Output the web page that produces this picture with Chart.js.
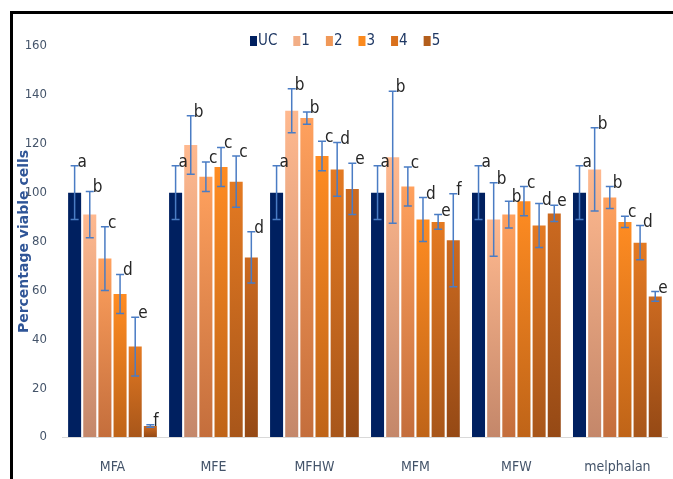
<!DOCTYPE html>
<html>
<head>
<meta charset="utf-8">
<script src="https://cdn.jsdelivr.net/npm/chart.js@4"></script>
<style>
  html, body { margin: 0; padding: 0; background: #fff; overflow: hidden; }
  #wrap { position: relative; width: 673px; height: 479px; }
  #frame { position: absolute; left: 10px; top: 11px; width: 720px; height: 520px;
           border-top: 3px solid #000; border-left: 3px solid #000; }
  canvas { position: absolute; left: 0; top: 0; }
</style>
</head>
<body>
<div id="wrap">
  <div id="frame"></div>
  <canvas id="viabilityChart" width="673" height="479"></canvas>
</div>
<script>
// categories and series
const categories = ["MFA", "MFE", "MFHW", "MFM", "MFW", "melphalan"];
const seriesNames = ["UC", "1", "2", "3", "4", "5"];

// mean % viable cells
const ucValues = [100, 100, 100, 100, 100, 100];
const s1Values = [91, 119.5, 133.5, 114.5, 89, 109.5];
const s2Values = [73, 106.5, 130.5, 102.5, 91, 98];
const s3Values = [58.5, 110.5, 115, 89, 96.5, 88];
const s4Values = [37, 104.5, 109.5, 88, 86.5, 79.5];
const s5Values = [4.5, 73.5, 101.5, 80.5, 91.5, 57.5];

// error bar half widths
const ucErrors = [11, 11, 11, 11, 11, 11];
const s1Errors = [9.5, 12, 9, 27, 15, 17];
const s2Errors = [13, 6, 2.5, 8, 5.5, 4.5];
const s3Errors = [8, 8, 6, 9, 6, 2.3];
const s4Errors = [12, 10.5, 11, 3, 9, 7];
const s5Errors = [0.5, 10.5, 10.5, 19, 3.3, 2];

// significance letters
const ucLetters = ["a", "a", "a", "a", "a", "a"];
const s1Letters = ["b", "b", "b", "b", "b", "b"];
const s2Letters = ["c", "c", "b", "c", "b", "b"];
const s3Letters = ["d", "c", "c", "d", "c", "c"];
const s4Letters = ["e", "c", "d", "e", "d", "d"];
const s5Letters = ["f", "d", "e", "f", "e", "e"];

const yTicks = [0, 20, 40, 60, 80, 100, 120, 140, 160];

const narrowFont = "'Liberation Sans Narrow', 'DejaVu Sans Condensed', sans-serif";

// top / bottom colour of each series gradient
const fills = [
  ["#002060", "#002060"],
  ["#FFB98F", "#C4876A"],
  ["#FFA15E", "#C46E3C"],
  ["#FF8C22", "#BF6418"],
  ["#E47A22", "#A8561A"],
  ["#CC6A20", "#954915"],
];
const legendColors = ["#002060", "#F2AE86", "#F09858", "#FB8A1E", "#D9701C", "#B35E1C"];

function barFill(topColor, bottomColor) {
  return function (ctx) {
    if (ctx.type !== "data" || !ctx.chart.chartArea) return bottomColor;
    if (topColor === bottomColor) return topColor;
    const y = ctx.chart.scales.y;
    const top = y.getPixelForValue(ctx.raw);
    const base = y.getPixelForValue(0);
    const g = ctx.chart.ctx.createLinearGradient(0, top, 0, base);
    g.addColorStop(0, topColor);
    g.addColorStop(1, bottomColor);
    return g;
  };
}

const valueSets = [ucValues, s1Values, s2Values, s3Values, s4Values, s5Values];
const errorSets = [ucErrors, s1Errors, s2Errors, s3Errors, s4Errors, s5Errors];
const letterSets = [ucLetters, s1Letters, s2Letters, s3Letters, s4Letters, s5Letters];

// error bars + letters
const errorBarPlugin = {
  id: "errorBars",
  afterDatasetsDraw(chart) {
    const c = chart.ctx;
    const y = chart.scales.y;
    c.save();
    chart.data.datasets.forEach((ds, di) => {
      const meta = chart.getDatasetMeta(di);
      meta.data.forEach((bar, i) => {
        const v = ds.data[i];
        const e = errorSets[di][i];
        const yTop = y.getPixelForValue(v + e);
        const yBot = y.getPixelForValue(v - e);
        c.strokeStyle = "#4A7CC4";
        c.lineWidth = 1.5;
        c.beginPath();
        c.moveTo(bar.x, yTop); c.lineTo(bar.x, yBot);
        c.moveTo(bar.x - 4, yTop); c.lineTo(bar.x + 4, yTop);
        c.moveTo(bar.x - 4, yBot); c.lineTo(bar.x + 4, yBot);
        c.stroke();
        c.fillStyle = "#262626";
        c.font = "17px " + narrowFont;
        c.textAlign = "left";
        c.textBaseline = "alphabetic";
        c.fillText(letterSets[di][i], bar.x + 3, yTop + 1);
      });
    });
    c.restore();
  },
};

// legend at top
const legendPlugin = {
  id: "topLegend",
  afterDraw(chart) {
    const c = chart.ctx;
    c.save();
    c.font = "15px " + narrowFont;
    c.textBaseline = "middle";
    c.textAlign = "left";
    let x = 250;
    const yc = 41;
    seriesNames.forEach((name, i) => {
      c.fillStyle = legendColors[i];
      c.fillRect(x, yc - 5, 7, 10);
      c.fillStyle = "#1F3864";
      c.fillText(name, x + 8, yc);
      x += 8 + c.measureText(name).width + 16;
    });
    c.restore();
  },
};

const ctx = document.getElementById("viabilityChart").getContext("2d");
new Chart(ctx, {
  type: "bar",
  data: {
    labels: categories,
    datasets: seriesNames.map((name, i) => ({
      label: name,
      data: valueSets[i],
      backgroundColor: barFill(fills[i][0], fills[i][1]),
      borderWidth: 0,
      categoryPercentage: 0.9,
      barPercentage: 0.86,
    })),
  },
  options: {
    responsive: false,
    animation: false,
    layout: { padding: { left: 16, right: 5, top: 46, bottom: 0 } },
    plugins: {
      legend: { display: false },
      tooltip: { enabled: false },
    },
    scales: {
      x: {
        grid: { display: false, drawTicks: false },
        border: { display: true, color: "#D9D9D9", width: 1 },
        ticks: {
          color: "#44546A",
          padding: 22,
          font: { family: narrowFont, size: 14 },
        },
        afterFit: (scale) => { scale.height = 42; },
      },
      y: {
        min: 0,
        max: 160,
        grid: { display: false, drawTicks: false },
        border: { display: false },
        afterBuildTicks: (scale) => { scale.ticks = yTicks.map((v) => ({ value: v })); },
        ticks: {
          color: "#44546A",
          padding: 15,
          font: { family: narrowFont, size: 13 },
        },
        title: {
          display: true,
          text: "Percentage viable cells",
          color: "#2F5597",
          font: { family: "'DejaVu Sans'", size: 14, weight: "bold" },
          padding: { top: 0, bottom: 0 },
        },
        afterFit: (scale) => { scale.width = 46; },
      },
    },
  },
  plugins: [errorBarPlugin, legendPlugin],
});
</script>
</body>
</html>
